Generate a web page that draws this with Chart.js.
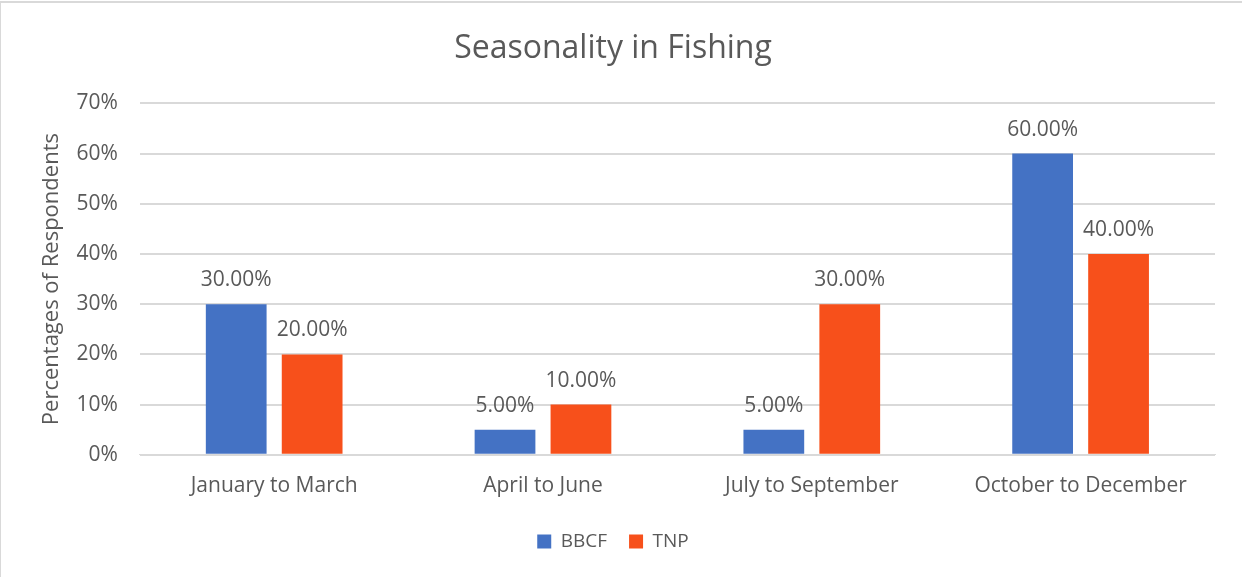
<!DOCTYPE html>
<html>
<head>
<meta charset="utf-8">
<script src="https://cdn.jsdelivr.net/npm/chart.js@4/dist/chart.umd.min.js"></script>
<style>
  html, body { margin: 0; padding: 0; background: #fff; }
  #wrap {
    position: relative; width: 1241px; height: 574px;
    border-top: 2px solid #d9d9d9; border-left: 1px solid #d9d9d9;
    margin-top: 1px;
  }
</style>
</head>
<body>
<div id="wrap"><canvas id="c"></canvas></div>
<script>
// ---- data ----
const categories = ['January to March', 'April to June', 'July to September', 'October to December'];
const bbcf = [30, 5, 5, 60];
const tnp  = [20, 10, 30, 40];
const seriesNames = ['BBCF', 'TNP'];
const seriesColors = ['#4472c4', '#f7501b'];
const yTicks = [0, 10, 20, 30, 40, 50, 60, 70];

const FONT = "'Open Sans', 'Liberation Sans', sans-serif";
const TEXT = '#595959';

// bar value labels ("30.00%")
const valueLabels = {
  id: 'valueLabels',
  afterDatasetsDraw(chart) {
    const ctx = chart.ctx;
    ctx.save();
    ctx.font = `21px ${FONT}`;
    ctx.fillStyle = TEXT;
    ctx.textAlign = 'center';
    ctx.textBaseline = 'alphabetic';
    chart.data.datasets.forEach((ds, i) => {
      chart.getDatasetMeta(i).data.forEach((bar, j) => {
        ctx.fillText(ds.data[j].toFixed(2) + '%', bar.x, bar.y - 18);
      });
    });
    ctx.restore();
  }
};

new Chart(document.getElementById('c'), {
  type: 'bar',
  data: {
    labels: categories,
    datasets: [
      { label: seriesNames[0], data: bbcf, backgroundColor: seriesColors[0] },
      { label: seriesNames[1], data: tnp,  backgroundColor: seriesColors[1] },
    ],
  },
  options: {
    responsive: true,
    maintainAspectRatio: false,
    animation: false,
    categoryPercentage: 0.565,
    barPercentage: 0.8,
    layout: { padding: { left: 10, right: 27, top: 10, bottom: 16 } },
    plugins: {
      title: {
        display: true,
        text: 'Seasonality in Fishing',
        color: TEXT,
        font: { family: FONT, size: 32, weight: 'normal' },
        padding: { top: 17, bottom: 35 },
      },
      legend: {
        position: 'bottom',
        labels: {
          color: TEXT,
          font: { family: FONT, size: 19 },
          boxWidth: 14, boxHeight: 14,
          padding: 22,
        },
      },
      tooltip: { enabled: false },
    },
    scales: {
      x: {
        grid: { display: false },
        border: { color: '#d9d9d9' },
        ticks: { color: TEXT, font: { family: FONT, size: 21 }, padding: 11 },
      },
      y: {
        min: 0, max: 70,
        afterBuildTicks: (axis) => { axis.ticks = yTicks.map(v => ({ value: v })); },
        grid: { color: '#d9d9d9', lineWidth: 2, drawTicks: false },
        border: { display: false },
        ticks: {
          color: TEXT, font: { family: FONT, size: 21 }, padding: 22,
          callback: (v) => v + '%',
        },
        title: {
          display: true,
          text: 'Percentages of Respondents',
          color: TEXT,
          font: { family: FONT, size: 22 },
          padding: { top: 28, bottom: -11 },
        },
      },
    },
  },
  plugins: [valueLabels],
});
</script>
</body>
</html>
